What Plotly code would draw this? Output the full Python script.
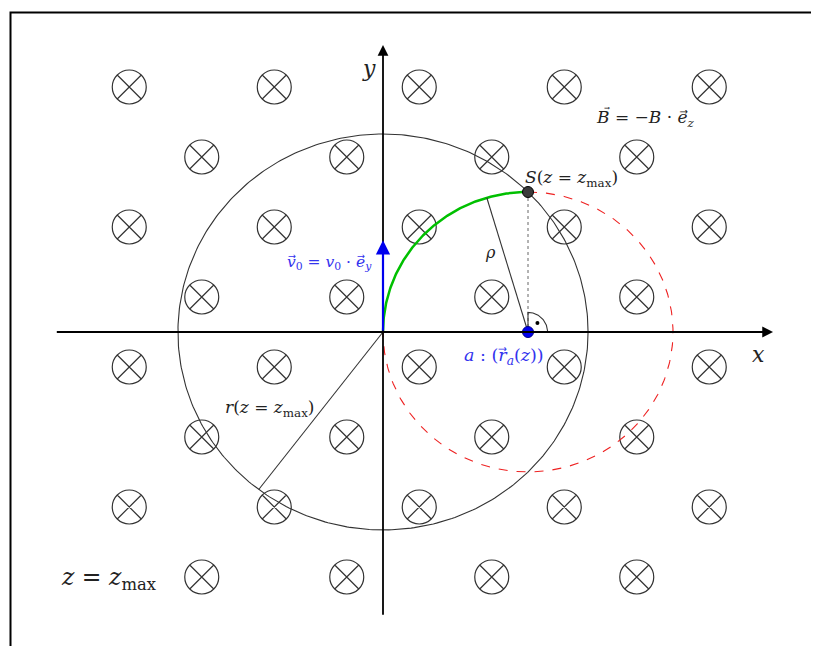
import numpy as np
import plotly.graph_objects as go

# ---- data ----
cross_rows = [3.5, 2.5, 1.5, 0.5, -0.5, -1.5, -2.5, -3.5]
cols_even = [-3.5, -1.5, 0.5, 2.5, 4.5]
cols_odd = [-2.5, -0.5, 1.5, 3.5]
big_R = 2 * np.sqrt(2)          # r(z = z_max)
rho = 2.0                       # gyration radius
center_a = [2.0, 0.0]           # guiding centre a
point_S = [2.0, 2.0]            # S(z = z_max)
v0_len = 1.31
rho_angle = 106.5               # degrees, direction of rho line
r_angle = 232.7                 # degrees, direction of r line

PX_X = 72.5
PX_Y = 70.0
SHIFT = 8                       # page body margin
OX, OY = 383 - SHIFT, 332 - SHIFT
W, H = 819, 646

cx, cy = [], []
for i, yv in enumerate(cross_rows):
    cols = cols_even if i % 2 == 0 else cols_odd
    for xv in cols:
        if xv == -3.5 and yv == -3.5:
            continue
        cx.append(xv)
        cy.append(yv)

fig = go.Figure()
serif = "DejaVu Serif"
grey = "#333333"
ARR = "\u20d7"

# crosses
fig.add_trace(go.Scatter(x=cx, y=cy, mode="markers",
                         marker=dict(symbol="circle-x-open", size=34, color=grey,
                                     line=dict(width=1.2, color=grey)),
                         hoverinfo="skip"))

# big circle
t = np.linspace(0, 2 * np.pi, 400)
fig.add_trace(go.Scatter(x=big_R * np.cos(t), y=big_R * np.sin(t), mode="lines",
                         line=dict(color=grey, width=1.1), hoverinfo="skip"))

# dashed red remainder of gyration circle
t2 = np.linspace(np.pi / 2, -np.pi, 300)
fig.add_trace(go.Scatter(x=center_a[0] + rho * np.cos(t2), y=center_a[1] + rho * np.sin(t2),
                         mode="lines", line=dict(color="#ee2222", width=1.1, dash="dash"),
                         hoverinfo="skip"))

# green arc from origin to S
t3 = np.linspace(np.pi, np.pi / 2, 200)
fig.add_trace(go.Scatter(x=center_a[0] + rho * np.cos(t3), y=center_a[1] + rho * np.sin(t3),
                         mode="lines", line=dict(color="#00c000", width=2.5), hoverinfo="skip"))

# rho line
ra = np.radians(rho_angle)
fig.add_trace(go.Scatter(x=[center_a[0], center_a[0] + rho * np.cos(ra)],
                         y=[center_a[1], center_a[1] + rho * np.sin(ra)],
                         mode="lines", line=dict(color=grey, width=1.1), hoverinfo="skip"))
# r line
rr = np.radians(r_angle)
fig.add_trace(go.Scatter(x=[0, big_R * np.cos(rr)], y=[0, big_R * np.sin(rr)],
                         mode="lines", line=dict(color=grey, width=1.1), hoverinfo="skip"))
# dotted vertical S -> a
fig.add_trace(go.Scatter(x=[point_S[0], center_a[0]], y=[point_S[1], center_a[1]],
                         mode="lines", line=dict(color="#666666", width=1, dash="dot"),
                         hoverinfo="skip"))
# right-angle mark
t4 = np.linspace(0, np.pi / 2, 50)
ram = 0.27
fig.add_trace(go.Scatter(x=np.concatenate([[center_a[0]], center_a[0] + ram * np.cos(t4), [center_a[0]]]),
                         y=np.concatenate([[center_a[1]], center_a[1] + ram * PX_X / PX_Y * np.sin(t4), [center_a[1]]]),
                         mode="lines", line=dict(color=grey, width=1.1), hoverinfo="skip"))
fig.add_trace(go.Scatter(x=[center_a[0] + 0.13], y=[center_a[1] + 0.13], mode="markers",
                         marker=dict(size=4, color="black"), hoverinfo="skip"))

# axes arrows
fig.add_annotation(x=5.38, y=0, ax=-4.52, ay=0, xref="x", yref="y", axref="x", ayref="y",
                   showarrow=True, arrowhead=2, arrowsize=1.2, arrowwidth=1.8, arrowcolor="black", text="")
fig.add_annotation(x=0, y=4.1, ax=0, ay=-4.06, xref="x", yref="y", axref="x", ayref="y",
                   showarrow=True, arrowhead=2, arrowsize=1.2, arrowwidth=1.8, arrowcolor="black", text="")
# v0 arrow
fig.add_annotation(x=0, y=v0_len, ax=0, ay=0, xref="x", yref="y", axref="x", ayref="y",
                   showarrow=True, arrowhead=2, arrowsize=1.3, arrowwidth=2.2, arrowcolor="#0000ee", text="")

# points
fig.add_trace(go.Scatter(x=[point_S[0]], y=[point_S[1]], mode="markers",
                         marker=dict(size=11, color="#3a3a3a", line=dict(color="black", width=1)),
                         hoverinfo="skip"))
fig.add_trace(go.Scatter(x=[center_a[0]], y=[center_a[1]], mode="markers",
                         marker=dict(size=11, color="#0000ee", line=dict(color="#000088", width=1)),
                         hoverinfo="skip"))

def px2x(p):
    return (p - SHIFT - OX) / PX_X

def py2y(p):
    return (OY - (p - SHIFT)) / PX_Y

def label(px, py, text, size=17, color="#222222"):
    fig.add_annotation(x=px2x(px), y=py2y(py), text=text, showarrow=False,
                       font=dict(family=serif, size=size, color=color),
                       xanchor="center", yanchor="middle")

label(369, 68, "<i>y</i>", 22)
label(758, 354, "<i>x</i>", 22)
label(645, 118, f"<i>B</i><sup>{ARR}</sup> = \u2212<i>B</i> · <i>e</i>{ARR}<sub><i>z</i></sub>", 17)
label(571, 178, "<i>S</i>(<i>z</i> = <i>z</i><sub>max</sub>)", 17)
label(504, 356, f"<i>a</i> : (<i>r</i>{ARR}<sub><i>a</i></sub>(<i>z</i>))", 17.5, "#3333ee")
label(329, 263, f"<i>v</i>{ARR}<sub>0</sub> = <i>v</i><sub>0</sub> · <i>e</i>{ARR}<sub><i>y</i></sub>", 15.5, "#3333ee")
label(490, 252, "<i>ρ</i>", 16)
label(270, 408, "<i>r</i>(<i>z</i> = <i>z</i><sub>max</sub>)", 17)
label(109, 578, "<i>z</i> = <i>z</i><sub>max</sub>", 23.5)

# frame
fig.add_shape(type="rect", xref="paper", yref="paper", x0=(10.5 - SHIFT) / W, x1=1.2,
              y0=-0.2, y1=1 - (12.5 - SHIFT) / H, line=dict(color="black", width=2))

fig.update_xaxes(range=[px2x(SHIFT), px2x(W + SHIFT)], visible=False, fixedrange=True)
fig.update_yaxes(range=[py2y(H + SHIFT), py2y(SHIFT)], visible=False, fixedrange=True)
fig.update_layout(width=W, height=H, margin=dict(l=0, r=0, t=0, b=0),
                  plot_bgcolor="white", paper_bgcolor="white", showlegend=False)

fig.write_html("out.html")
